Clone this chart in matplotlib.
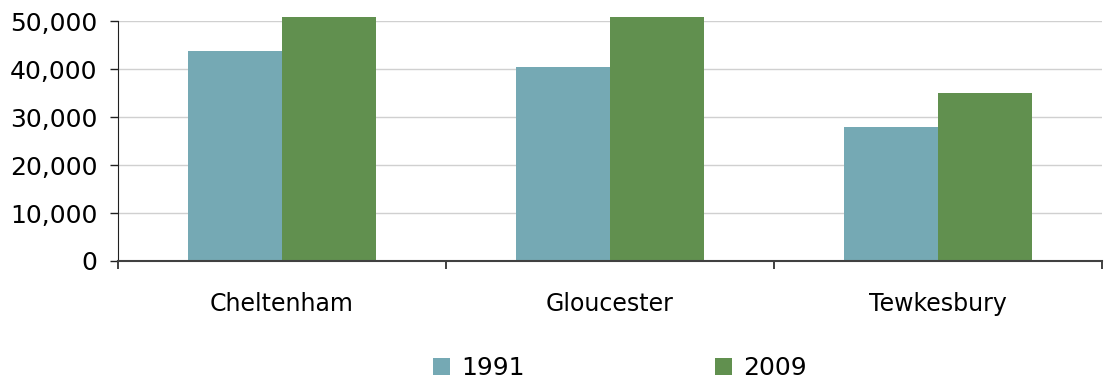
import matplotlib
matplotlib.use("Agg")
import matplotlib.pyplot as plt
import numpy as np
from matplotlib.ticker import FuncFormatter, FixedLocator

# Workforce by district, 1991 vs 2009
districts = ["Cheltenham", "Gloucester", "Tewkesbury"]
years = ["1991", "2009"]
values_1991 = [43800, 40400, 27900]
values_2009 = [50900, 50900, 35000]

colors = {"1991": "#75A9B4", "2009": "#61904F"}

plt.rcParams["font.family"] = ["DejaVu Sans"]

fig = plt.figure(figsize=(11.09, 3.83), dpi=100)
ax = fig.add_axes([118 / 1109, 122 / 383, 984 / 1109, 240 / 383])

x = np.arange(len(districts))
w = 0.287
ax.bar(x - w / 2, values_1991, width=w, color=colors["1991"], label="1991", zorder=3, clip_on=False)
ax.bar(x + w / 2, values_2009, width=w, color=colors["2009"], label="2009", zorder=3, clip_on=False)

ax.set_xlim(-0.5, 2.5)
ax.set_ylim(0, 50000)
ax.set_yticks(np.arange(0, 50001, 10000))
ax.yaxis.set_major_formatter(FuncFormatter(lambda v, p: f"{int(v):,}"))
ax.grid(axis="y", color="#D0D0D0", linewidth=1.0, zorder=0)

# category labels in the middle, tick marks at the group boundaries
ax.set_xticks(x)
ax.set_xticklabels(districts, fontsize=17)
ax.xaxis.set_minor_locator(FixedLocator([-0.5, 0.5, 1.5, 2.5]))
ax.tick_params(axis="x", which="major", length=0, pad=22)
ax.tick_params(axis="x", which="minor", length=6, width=1.2, color="#202020", direction="out")
ax.tick_params(axis="y", labelsize=18, length=6, width=1.0, color="#202020", pad=9)

for side in ("top", "right"):
    ax.spines[side].set_visible(False)
ax.spines["left"].set_color("#202020")
ax.spines["bottom"].set_color("#404040")
ax.spines["bottom"].set_linewidth(1.5)
ax.spines["bottom"].set_zorder(4)

fig.legend(
    loc="center",
    bbox_to_anchor=(620 / 1109, 1 - 368 / 383),
    ncol=2,
    frameon=False,
    fontsize=18,
    handlelength=0.68,
    handleheight=0.68,
    handletextpad=0.45,
    columnspacing=7.6,
)

fig.savefig("out.png", dpi=100)
